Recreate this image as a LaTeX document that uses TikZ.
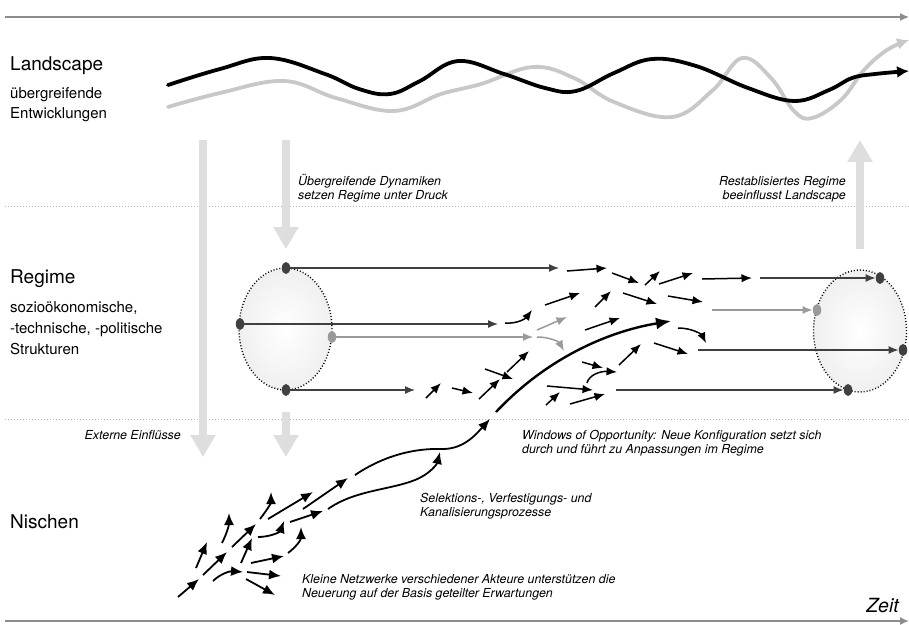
\documentclass[tikz,border=0pt]{standalone}
\usepackage{fontspec}
\setmainfont{TeX Gyre Heros}
\usetikzlibrary{arrows.meta,shapes.geometric}
\definecolor{axisgray}{HTML}{8C8C8C}
\definecolor{sepgray}{HTML}{B4B4B4}
\definecolor{biggray}{HTML}{DEDEDE}
\definecolor{darkline}{HTML}{404040}
\definecolor{lightline}{HTML}{9A9A9A}
\definecolor{wavegray}{HTML}{C8C8C8}
\begin{document}
\begin{tikzpicture}[x=1pt,y=-1pt,
  hd/.style={font=\fontsize{19}{22}\selectfont, anchor=base west, inner sep=0},
  lbl/.style={font=\fontsize{15}{18}\selectfont, anchor=base west, inner sep=0},
  note/.style={font=\itshape\fontsize{12.4}{14}\selectfont, anchor=base west, inner sep=0},
  noter/.style={note, anchor=base east},
  axis/.style={draw=axisgray, line width=1.5pt, -{Latex[length=9pt,width=8pt]}},
  sep/.style={draw=sepgray, line width=0.9pt, dash pattern=on 1pt off 2pt},
  bigarrow/.style={draw=biggray, line width=8pt, -{Triangle[length=22pt,width=24pt]}},
  regell/.style={ellipse, draw=black, line width=1.4pt, dash pattern=on 1pt off 2pt,
     shade, inner color=white, outer color=black!6, minimum width=93pt, minimum height=122pt, inner sep=0},
  dotd/.style={ellipse, fill=darkline, minimum width=8.5pt, minimum height=12pt, inner sep=0},
  dotl/.style={ellipse, fill=lightline, minimum width=8.5pt, minimum height=12pt, inner sep=0},
  rl/.style={draw=darkline, line width=1.3pt, -{Latex[length=10pt,width=8pt]}},
  rlight/.style={draw=lightline, line width=1.3pt, -{Latex[length=10pt,width=8pt]}},
  sa/.style={draw=black, line width=1.5pt, -{Latex[length=10.5pt,width=8.5pt]}},
  sag/.style={draw=lightline, line width=1.5pt, -{Latex[length=10.5pt,width=8.5pt]}},
  na/.style={draw=black, line width=1.8pt, -{Latex[length=12pt,width=10pt]}},
  big/.style={draw=black, line width=2.4pt, -{Latex[length=15pt,width=12pt]}},
  wave/.style={line width=3.8pt, line cap=round, -{Latex[length=12pt,width=12pt]}}
]
\useasboundingbox (0,0) rectangle (909,624);

% time axes
\coordinate (ta1) at (5,17);
\coordinate (ta2) at (909,17);
\coordinate (ba1) at (5,621);
\coordinate (ba2) at (909,621);
\draw[axis] (ta1) -- (ta2);
\draw[axis] (ba1) -- (ba2);

% separators
\coordinate (s1a) at (5,206); \coordinate (s1b) at (909,206);
\coordinate (s2a) at (5,419); \coordinate (s2b) at (909,419);
\draw[sep] (s1a) -- (s1b);
\draw[sep] (s2a) -- (s2b);

% big gray arrows
\coordinate (g1a) at (203,140); \coordinate (g1b) at (203,457);
\coordinate (g2a) at (286,140); \coordinate (g2b) at (286,249);
\coordinate (g3a) at (286,412); \coordinate (g3b) at (286,457);
\coordinate (g4a) at (860,249); \coordinate (g4b) at (860,140);
\draw[bigarrow] (g1a) -- (g1b);
\draw[bigarrow] (g2a) -- (g2b);
\draw[bigarrow] (g3a) -- (g3b);
\draw[bigarrow] (g4a) -- (g4b);

% landscape waves
\draw[wave, draw=wavegray, color=wavegray] plot[smooth, tension=0.65] coordinates {
 (168,107) (220,93) (284,81) (336,98) (394,111) (441,94) (481,84) (533,67) (574,78)
 (614,102) (672,117) (713,90) (742,58) (771,78) (794,111) (812,118) (841,100) (864,70) (887,50) (909,40)};
\draw[wave, draw=black] plot[smooth, tension=0.65] coordinates {
 (168,85) (220,69) (270,58) (325,74) (359,89) (390,94) (420,81) (458,61) (504,74) (545,88)
 (576,91) (614,73) (652,59) (696,66) (748,88) (794,101) (829,90) (852,78) (875,74) (909,71)};

% texts
\node[hd] (tland) at (10,70) {Landscape};
\node[lbl] (tland1) at (10,98) {übergreifende};
\node[lbl] (tland2) at (10,118) {Entwicklungen};
\node[hd] (treg) at (10,283) {Regime};
\node[lbl] (treg1) at (10,312) {sozioökonomische,};
\node[lbl] (treg2) at (10,333) {-technische, -politische};
\node[lbl] (treg3) at (10,354) {Strukturen};
\node[hd] (tnis) at (10,528) {Nischen};

\node[note] (n1a) at (298,185) {Übergreifende Dynamiken};
\node[note] (n1b) at (298,199) {setzen Regime unter Druck};
\node[noter] (n2a) at (846,185) {Restablisiertes Regime};
\node[noter] (n2b) at (846,199) {beeinflusst Landscape};
\node[noter] (n3) at (181,439) {Externe Einflüsse};
\node[note] (n4a) at (522,439) {Windows of Opportunity: Neue Konfiguration setzt sich};
\node[note] (n4b) at (522,453) {durch und führt zu Anpassungen im Regime};
\node[note] (n5a) at (420,502) {Selektions-, Verfestigungs- und};
\node[note] (n5b) at (420,516) {Kanalisierungsprozesse};
\node[note] (n6a) at (302,583) {Kleine Netzwerke verschiedener Akteure unterstützen die};
\node[note] (n6b) at (302,597) {Neuerung auf der Basis geteilter Erwartungen};
\node[font=\itshape\fontsize{19.5}{22}\selectfont, anchor=base east, inner sep=0] (tzeit) at (899,612) {Zeit};

% regime ellipses
\node[regell] (E1) at (285.5,329) {};
\node[regell] (E2) at (860,331) {};

\node[dotd] (L1) at (286,268) {};
\node[dotd] (L2) at (240,324) {};
\node[dotl] (L3) at (332,337) {};
\node[dotd] (L4) at (286,390) {};
\node[dotd] (R1) at (880,278) {};
\node[dotl] (R2) at (817,310) {};
\node[dotd] (R3) at (903,350) {};
\node[dotd] (R4) at (848,390) {};

\coordinate (L1e) at (559,268);
\coordinate (L2e) at (498,324);
\coordinate (L3e) at (533,337);
\coordinate (L4e) at (415,390);
\coordinate (R1s) at (760,278);
\coordinate (R2s) at (712,310);
\coordinate (R3s) at (698,350);
\coordinate (R4s) at (616,390);

\draw[rl] (L1) -- (L1e);
\draw[rl] (L2) -- (L2e);
\draw[rlight] (L3) -- (L3e);
\draw[rl] (L4) -- (L4e);
\draw[rl] (R1s) -- (R1);
\draw[rlight] (R2s) -- (R2);
\draw[rl] (R3s) -- (R3);
\draw[rl] (R4s) -- (R4);

% short arrows in regime
\foreach \a/\b/\c/\d in {567/271/607/268, 612/273/639/283, 645/285/660/271, 659/284/693/273,
  702/279/752/278, 545/305/580/293, 595/307/611/291, 623/293/657/304, 668/296/703/302,
  585/330/620/318, 654/343/688/354, 582/362/603/368, 619/365/641/344, 547/386/593/390,
  546/405/560/392, 570/404/605/394, 426/398/441/383, 452/388/473/393, 479/399/500/379,
  485/369/513/379, 507/372/529/351}
  \draw[sa] (\a,\b) -- (\c,\d);
\draw[sag] (537,330) -- (567,317);
\draw[sag] (537,337) .. controls (550,337) and (559,342) .. (564,351);
\draw[sa] (505,323) .. controls (518,324) and (526,318) .. (532,310);
\draw[sa] (678,328) .. controls (693,328) and (702,335) .. (706,343);
\draw[sa] (587,383) .. controls (589,375) and (600,371) .. (617,372);

% big curve
\draw[big] (496,412) .. controls (545,360) and (605,332) .. (671,321);

% niche arrows
\foreach \a/\b/\c/\d in {178/597/199/579, 203/575/227/552, 232/547/256/524, 268/519/313/492,
  303/509/348/478, 196/568/207/542, 241/563/252/538, 247/572/281/576, 246/579/275/595,
  251/563/284/556, 290/522/323/511}
  \draw[na] (\a,\b) -- (\c,\d);
\draw[na] (222,543) .. controls (227,533) and (229,525) .. (229,513);
\draw[na] (213,581) .. controls (220,574) and (230,571) .. (243,572);
\draw[na] (258,537) .. controls (270,537) and (280,532) .. (284,521);
\draw[na] (260,519) .. controls (267,510) and (271,503) .. (271,492);
\draw[na] (288,553) .. controls (296,547) and (301,540) .. (301,527);
\draw[na] (355,475) .. controls (385,455) and (415,448) .. (443,449) .. controls (465,449) and (478,432) .. (490,419);
\draw[na] (328,509) .. controls (355,490) and (390,490) .. (415,480) .. controls (430,474) and (437,464) .. (440,452);
\end{tikzpicture}
\end{document}
